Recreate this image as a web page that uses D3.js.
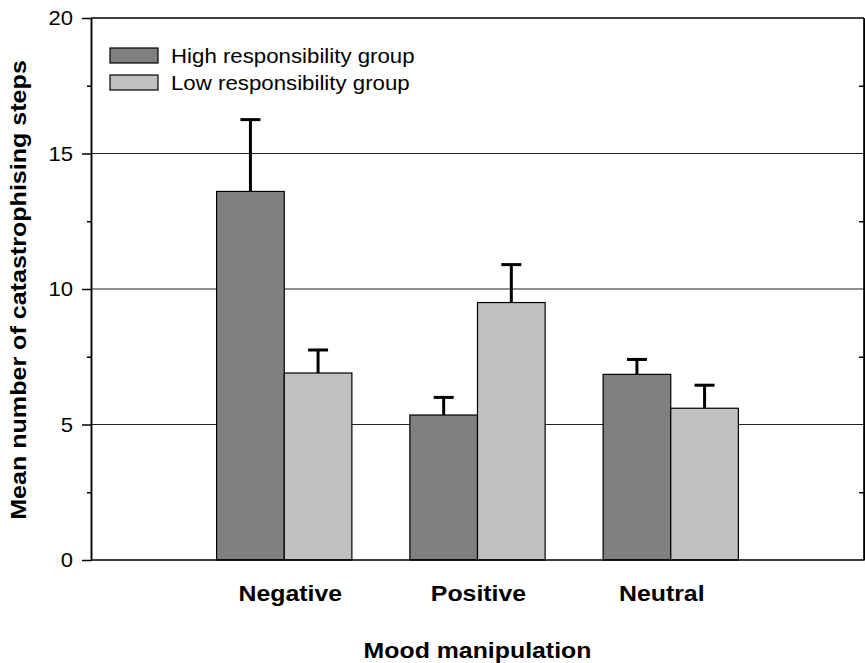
<!DOCTYPE html>
<html>
<head>
<meta charset="utf-8">
<script src="https://cdn.jsdelivr.net/npm/d3@7"></script>
<style>
  body { margin: 0; background: #fff; }
  svg { display: block; font-family: "Liberation Sans", Arial, sans-serif; }
  .axis path, .axis line { stroke: #000; stroke-width: 1.5; }
  .axis text { font-size: 21px; fill: #000; }
</style>
</head>
<body>
<svg id="chart"></svg>
<script>
// Data
const categories = ['Negative', 'Positive', 'Neutral'];
const groups = ['High responsibility group', 'Low responsibility group'];
const highMeans = [13.6, 5.35, 6.85];
const highErr = [2.65, 0.65, 0.55];
const lowMeans = [6.9, 9.5, 5.6];
const lowErr = [0.85, 1.4, 0.85];
const yTicks = [0, 5, 10, 15, 20];
const yMinorTicks = [2.5, 7.5, 12.5, 17.5];

const width = 865;
const height = 663;
const plotLeft = 91, plotRight = 864, plotTop = 18, plotBottom = 560;
const barW = 0.35; // in x units
const colors = ['#808080', '#c0c0c0'];
const stretch = 1.13; // text in the original is a bit wide
const catLabelShift = [6, 1, -9]; // labels aren't quite centred on the groups

const chart = d3.select('#chart')
  .attr('width', width)
  .attr('height', height);

// Scales
const xScale = d3.scaleLinear().domain([0, 4]).range([plotLeft, plotRight]);
const yScale = d3.scaleLinear().domain([0, 20]).range([plotBottom, plotTop]);

// gridlines
chart.selectAll('line.grid')
  .data([5, 10, 15])
  .enter()
  .append('line')
  .attr('class', 'grid')
  .attr('x1', plotLeft).attr('x2', plotRight)
  .attr('y1', d => yScale(d)).attr('y2', d => yScale(d))
  .attr('stroke', '#222')
  .attr('stroke-width', 1.2);

// bars, one row per category + group
const rows = [];
categories.forEach((c, i) => {
  rows.push({ cat: c, pos: i + 1, g: 0, mean: highMeans[i], err: highErr[i] });
  rows.push({ cat: c, pos: i + 1, g: 1, mean: lowMeans[i], err: lowErr[i] });
});

const barX = d => d.g === 0 ? xScale(d.pos - barW) : xScale(d.pos);

chart.selectAll('rect.bar')
  .data(rows)
  .enter()
  .append('rect')
  .attr('class', 'bar')
  .attr('x', barX)
  .attr('y', d => yScale(d.mean))
  .attr('width', xScale(barW) - xScale(0))
  .attr('height', d => yScale(0) - yScale(d.mean))
  .attr('fill', d => colors[d.g])
  .attr('stroke', '#000')
  .attr('stroke-width', 1.2);

// error bars (upper only)
const errCx = d => barX(d) + (xScale(barW) - xScale(0)) / 2;
chart.selectAll('line.err')
  .data(rows)
  .enter()
  .append('line')
  .attr('class', 'err')
  .attr('x1', errCx).attr('x2', errCx)
  .attr('y1', d => yScale(d.mean))
  .attr('y2', d => yScale(d.mean + d.err))
  .attr('stroke', '#000')
  .attr('stroke-width', 3);

chart.selectAll('line.cap')
  .data(rows)
  .enter()
  .append('line')
  .attr('class', 'cap')
  .attr('x1', d => errCx(d) - 10).attr('x2', d => errCx(d) + 10)
  .attr('y1', d => yScale(d.mean + d.err))
  .attr('y2', d => yScale(d.mean + d.err))
  .attr('stroke', '#000')
  .attr('stroke-width', 3);

// frame: top, right, bottom
chart.append('line')
  .attr('x1', plotLeft).attr('x2', plotRight)
  .attr('y1', yScale(20)).attr('y2', yScale(20))
  .attr('stroke', '#000').attr('stroke-width', 1.5);
chart.append('line')
  .attr('x1', plotRight).attr('x2', plotRight)
  .attr('y1', yScale(20)).attr('y2', yScale(0))
  .attr('stroke', '#000').attr('stroke-width', 1.5);
chart.append('line')
  .attr('x1', plotLeft).attr('x2', plotRight)
  .attr('y1', yScale(0)).attr('y2', yScale(0))
  .attr('stroke', '#000').attr('stroke-width', 1.5);

// Axes
const yAxisGroup = chart.append('g')
  .attr('class', 'axis')
  .attr('transform', `translate(${plotLeft},0)`)
  .call(d3.axisLeft(yScale).tickValues(yTicks).tickSize(9).tickPadding(9).tickSizeOuter(0));

// stretch tick labels a little, anchored at their right edge
yAxisGroup.selectAll('.tick text')
  .attr('transform', 'translate(-18,0) scale(1.05,1) translate(18,0)');

chart.append('g')
  .attr('class', 'axis')
  .attr('transform', `translate(${plotLeft},0)`)
  .call(d3.axisLeft(yScale).tickValues(yMinorTicks).tickSize(4).tickFormat('').tickSizeOuter(0));

chart.append('g')
  .attr('class', 'axis')
  .attr('transform', `translate(${plotRight},0)`)
  .call(d3.axisLeft(yScale).tickValues(yMinorTicks).tickSize(5).tickFormat('').tickSizeOuter(0));

// category labels
chart.selectAll('text.cat')
  .data(categories)
  .enter()
  .append('text')
  .attr('class', 'cat')
  .attr('transform', (d, i) => `translate(${xScale(i + 1) + catLabelShift[i]}, 601) scale(${stretch},1)`)
  .attr('text-anchor', 'middle')
  .attr('font-size', 22)
  .attr('font-weight', 'bold')
  .text(d => d);

// Axis Labels
chart.append('text')
  .attr('transform', `translate(${(plotLeft + plotRight) / 2}, 658) scale(${stretch},1)`)
  .attr('text-anchor', 'middle')
  .attr('font-size', 22)
  .attr('font-weight', 'bold')
  .text('Mood manipulation');

chart.append('text')
  .attr('transform', `translate(26, 290) rotate(-90) scale(1.14,1)`)
  .attr('text-anchor', 'middle')
  .attr('font-size', 22)
  .attr('font-weight', 'bold')
  .text('Mean number of catastrophising steps');

// legend
const legend = chart.selectAll('g.legend')
  .data(groups)
  .enter()
  .append('g')
  .attr('class', 'legend')
  .attr('transform', (d, i) => `translate(110, ${48 + i * 27})`);

legend.append('rect')
  .attr('width', 48)
  .attr('height', 15)
  .attr('fill', (d, i) => colors[i])
  .attr('stroke', '#000')
  .attr('stroke-width', 1.2);

legend.append('text')
  .attr('transform', 'translate(61, 15) scale(1.06,1)')
  .attr('font-size', 21)
  .text(d => d);
</script>
</body>
</html>
